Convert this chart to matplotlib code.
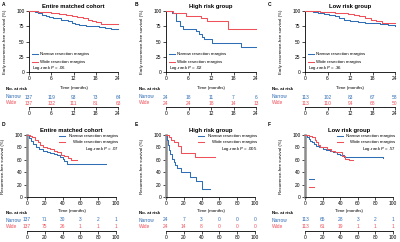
import matplotlib
matplotlib.use('Agg')
import matplotlib.pyplot as plt
from matplotlib.lines import Line2D

plt.rcParams['font.family'] = ['Liberation Sans', 'DejaVu Sans']

BLUE = '#2f6db5'
RED = '#f0505a'

# ---------------- data ----------------
# Panel A: early RFS, entire matched cohort (months, %)
A_narrow_t = [0, 1.5, 2.5, 3.5, 4.5, 5.5, 6.5, 7.5, 8.5, 9.5, 10.5, 11.5, 12.5, 13.5, 15.5, 17.5, 19, 20.5, 22, 24]
A_narrow_s = [100, 98, 96, 94, 92, 90, 89, 88, 86, 85, 83, 81, 79, 77, 76, 75, 74, 72, 71, 70.5]
A_wide_t = [0, 2.5, 4, 6, 8, 10, 11.5, 13, 14.5, 16, 17, 18, 19.5, 24]
A_wide_s = [100, 99, 98, 97, 95, 94, 92, 90, 88, 86, 84, 82, 79.5, 79.5]
# Panel B: early RFS, high risk
B_narrow_t = [0, 1.6, 2.7, 3.6, 4.4, 8.0, 8.9, 9.6, 10.2, 12.2, 20.0, 24]
B_narrow_s = [100, 96, 83, 75, 71, 67, 63, 58, 54, 47, 41, 41]
B_wide_t = [0, 1.8, 5.3, 9.3, 11.0, 16.4, 24]
B_wide_s = [100, 96, 92, 88, 83, 71, 71]
# Panel C: early RFS, low risk
C_narrow_t = [0, 2, 3.5, 5, 6.5, 8, 9, 10.5, 12, 14, 16, 18, 20, 22, 24]
C_narrow_s = [100, 98, 96, 95, 93, 91, 88, 86, 83, 82, 81, 80, 78, 77, 76]
C_wide_t = [0, 4, 6, 8, 10, 11.5, 13, 14.5, 16, 17.5, 19, 20.5, 24]
C_wide_s = [100, 99, 98, 97, 96, 95, 93, 91, 89, 86, 83, 81, 80]
# Panel D: RFS, entire matched cohort
D_narrow_t = [0, 2, 4, 7, 10, 14, 18, 22, 26, 30, 34, 37, 40, 42, 44.6, 89]
D_narrow_s = [100, 95, 90, 86, 81, 78, 75, 73, 71, 69, 67, 65, 62, 58, 54, 54]
D_wide_t = [0, 3, 6, 9, 12, 15, 18, 22, 26, 30, 34, 38, 42, 46, 49, 56]
D_wide_s = [100, 98, 96, 92, 88, 84, 81, 79, 77, 74, 72, 68, 66, 63, 60, 60]
# Panel E: RFS, high risk
E_narrow_t = [0, 1.5, 2.5, 3.5, 5, 7, 9, 10.5, 12, 17, 27.5, 34, 41, 49.5]
E_narrow_s = [100, 92, 84, 76, 70, 62, 56, 51, 47, 40, 33, 26, 13, 13]
E_wide_t = [0, 3, 6, 9, 13, 16.5, 32.5, 55]
E_wide_s = [100, 96, 92, 88, 82, 71, 64, 64]
# Panel F: RFS, low risk
F_narrow_t = [0, 2, 4, 6, 8, 10, 13, 16, 20, 24, 28, 32, 36, 40, 44, 89]
F_narrow_s = [100, 97, 94, 90, 88, 85, 83, 81, 78, 76, 74, 72, 70, 68, 64, 63]
F_wide_t = [0, 4, 8, 11, 13, 15, 17, 20, 25, 30, 34, 38, 42, 46, 50, 55]
F_wide_s = [100, 98, 96, 92, 88, 84, 81, 80, 78, 74, 73, 72, 66, 62, 59, 59]

ticks_early = [0, 6, 12, 18, 24]
ticks_long = [0, 20, 40, 60, 80, 100]
risk = {
    'A': ([137, 119, 93, 73, 64], [137, 132, 111, 81, 63]),
    'B': ([24, 18, 11, 7, 6], [24, 24, 18, 14, 13]),
    'C': ([113, 102, 83, 67, 58], [113, 110, 94, 68, 50]),
    'D': ([137, 71, 30, 3, 2, 1], [137, 75, 26, 1, 1, 1]),
    'E': ([24, 7, 3, 0, 0, 0], [24, 14, 8, 0, 0, 0]),
    'F': ([113, 65, 28, 3, 2, 1], [113, 61, 19, 1, 1, 1]),
}
titles = {'A': 'Entire matched cohort', 'B': 'High risk group', 'C': 'Low risk group',
          'D': 'Entire matched cohort', 'E': 'High risk group', 'F': 'Low risk group'}
pvals = {'A': '.06', 'B': '.02', 'C': '.36', 'D': '.07', 'E': '.005', 'F': '.57'}
curves = {
    'A': (A_narrow_t, A_narrow_s, A_wide_t, A_wide_s),
    'B': (B_narrow_t, B_narrow_s, B_wide_t, B_wide_s),
    'C': (C_narrow_t, C_narrow_s, C_wide_t, C_wide_s),
    'D': (D_narrow_t, D_narrow_s, D_wide_t, D_wide_s),
    'E': (E_narrow_t, E_narrow_s, E_wide_t, E_wide_s),
    'F': (F_narrow_t, F_narrow_s, F_wide_t, F_wide_s),
}

# ---------------- layout ----------------
W, H = 400, 242
fig = plt.figure(figsize=(4, 2.42), dpi=100)


def px_axes(l, t, r, b):
    return fig.add_axes([l / W, 1 - b / H, (r - l) / W, (b - t) / H])


FS_T = 3.5
FS_L = 3.2
geom = {
    'A': (0, (29, 11, 118, 72), (29, 92, 118, 107)),
    'B': (133, (166, 11, 256, 72), (166, 92, 256, 107)),
    'C': (266, (305, 11, 395, 72), (305, 92, 395, 107)),
    'D': (0, (27, 135, 116, 197), (27, 214, 116, 231)),
    'E': (133, (166, 135, 255, 197), (166, 214, 255, 231)),
    'F': (266, (305, 135, 393, 197), (305, 214, 393, 231)),
}

for key in 'ABCDEF':
    x0, mg, rg = geom[key]
    top = key in 'ABC'
    xt = ticks_early if top else ticks_long
    xmax = xt[-1]
    ax = px_axes(*mg)
    nt, ns, wt, ws = curves[key]
    ax.step(nt, ns, where='post', color=BLUE, lw=0.75, clip_on=False, zorder=3)
    ax.step(wt, ws, where='post', color=RED, lw=0.75, clip_on=False, zorder=3)
    ax.set_xlim(0, xmax)
    ax.set_ylim(0, 100)
    ax.set_xticks(xt)
    ax.set_yticks([0, 25, 50, 75, 100] if top else [0, 20, 40, 60, 80, 100])
    for s in ['top', 'right']:
        ax.spines[s].set_visible(False)
    ax.spines['bottom'].set_linewidth(0.6)
    if top:
        ax.spines['left'].set_linewidth(0.6)
    else:
        ax.spines['left'].set_linewidth(1.8)
        ax.spines['left'].set_color('#8c8c8c')
    ax.tick_params(labelsize=FS_T, length=2, width=0.5, pad=1.2)
    ax.set_xlabel('Time (months)', fontsize=FS_L)
    ax.xaxis.set_label_coords(0.5, -14 / 61 if top else -12 / 62)
    ax.set_ylabel('Early recurrence-free survival (%)' if top else 'Recurrence-free survival (%)',
                  fontsize=FS_L)
    ax.yaxis.set_label_coords(-22 / 89, 0.5)
    ax.set_title(titles[key], fontsize=4.2, fontweight='bold', pad=2)
    fig.text((x0 + 2) / W, 1 - 4 / H if top else 1 - 125 / H, key, fontsize=3.5,
             fontweight='bold', va='center', ha='left')

    # legend
    ptxt = 'Log-rank $\\it{P}$ = ' + pvals[key]
    if top:
        for yv, col, lab in [(0.30, BLUE, 'Narrow resection margins'), (0.17, RED, 'Wide resection margins')]:
            ax.add_line(Line2D([0.03, 0.10], [yv, yv], color=col, lw=0.75, transform=ax.transAxes))
            ax.text(0.12, yv, lab, fontsize=FS_L, va='center', ha='left', transform=ax.transAxes)
        ax.text(0.03, 0.06, ptxt, fontsize=FS_L, va='center', ha='left', transform=ax.transAxes)
    else:
        for yv, col, lab in [(0.99, BLUE, 'Narrow resection margins'), (0.88, RED, 'Wide resection margins')]:
            ax.add_line(Line2D([0.36, 0.43], [yv, yv], color=col, lw=0.75, transform=ax.transAxes, clip_on=False))
            ax.text(1.03, yv, lab, fontsize=FS_L, va='center', ha='right', transform=ax.transAxes)
        ax.text(1.03, 0.78, ptxt, fontsize=FS_L, va='center', ha='right', transform=ax.transAxes)
    if key == 'F':
        ax.add_line(Line2D([0.045, 0.10], [0.285, 0.285], color=BLUE, lw=0.75, transform=ax.transAxes))
        ax.add_line(Line2D([0.045, 0.10], [0.165, 0.165], color=RED, lw=0.75, transform=ax.transAxes))

    # risk table
    rax = px_axes(*rg)
    rax.set_xlim(0, xmax)
    rax.set_ylim(0, 1)
    rax.set_xticks(xt)
    rax.set_yticks([])
    for s in ['top', 'right', 'left']:
        rax.spines[s].set_visible(False)
    rax.spines['bottom'].set_linewidth(0.6)
    rax.tick_params(labelsize=FS_T, length=2, width=0.5, pad=1.2)
    rax.patch.set_alpha(0)
    nr, wr = risk[key]
    for xv, n, w in zip(xt, nr, wr):
        rax.text(xv, 0.66, str(n), color=BLUE, fontsize=FS_T, ha='center', va='center')
        rax.text(xv, 0.24, str(w), color=RED, fontsize=FS_T, ha='center', va='center')
    base = rg[3]
    fig.text((x0 + 6) / W, 1 - (base - 18) / H, 'No. at risk', fontsize=FS_L, fontweight='bold',
             ha='left', va='center')
    fig.text((x0 + 6) / W, 1 - (base - 11) / H, 'Narrow', fontsize=FS_T, color=BLUE, ha='left', va='center')
    fig.text((x0 + 6) / W, 1 - (base - 4) / H, 'Wide', fontsize=FS_T, color=RED, ha='left', va='center')

fig.savefig('out.png', dpi=100)
